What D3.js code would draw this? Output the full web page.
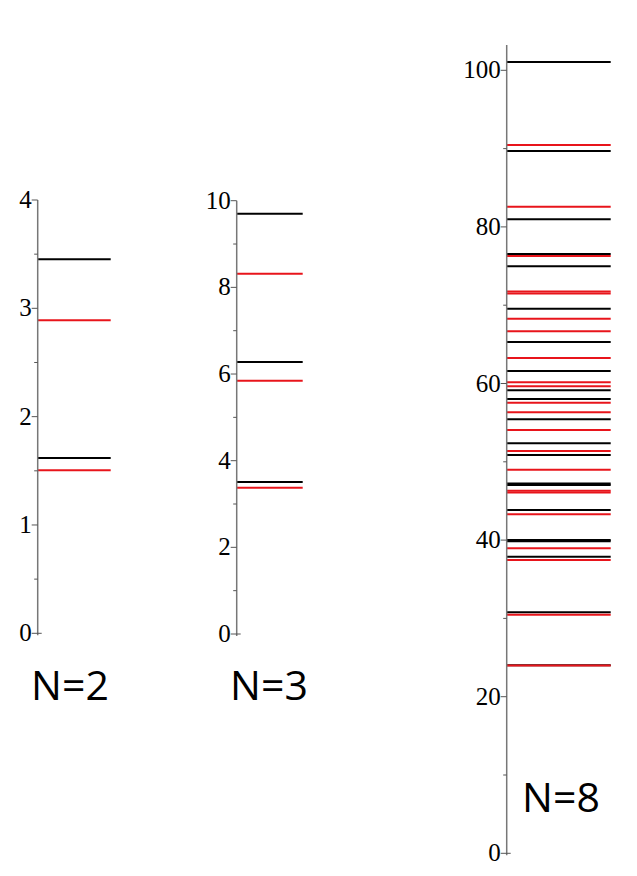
<!DOCTYPE html>
<html>
<head>
<meta charset="utf-8">
<script src="https://cdn.jsdelivr.net/npm/d3@7"></script>
<style>
    html, body { margin: 0; padding: 0; background: #fff; }
    svg { display: block; }
    .tick-label { font-family: "Liberation Serif", "DejaVu Serif", serif; font-size: 25px; fill: #000; }
    .panel-title { font-family: "Open Sans", "Liberation Sans", sans-serif; font-size: 41px; fill: #000; }
</style>
</head>
<body>
<div id="plot"></div>
<script>
// Energy levels
const n2Black = [1.618, 3.452];
const n2Red = [1.505, 2.889];
const n2Ticks = [0, 1, 2, 3, 4];

const n3Black = [3.508, 6.277, 9.70];
const n3Red = [3.377, 5.846, 8.315];
const n3Ticks = [0, 2, 4, 6, 8, 10];

const n8Black = [24.02, 30.78, 37.88, 39.85, 40.02, 43.84, 47.03, 47.23, 50.87, 52.36,
    55.43, 58.02, 59.13, 61.6, 65.3, 69.55, 74.97, 76.54, 80.97, 89.7, 101.06];
const n8Red = [23.97, 30.47, 37.46, 38.95, 43.29, 46.08, 46.3, 48.99, 51.38, 54.06,
    56.32, 57.55, 59.64, 60.15, 63.26, 66.66, 68.28, 71.5, 71.75, 76.28, 82.58, 90.46];
const n8Ticks = [0, 20, 40, 60, 80, 100];

const titles = ["N=2", "N=3", "N=8"];

// Panel layout (pixels)
const panels = [
    { title: titles[0], black: n2Black, red: n2Red, ticks: n2Ticks, minorStep: 0.5,
      x: 37.7, x2: 110.7, y0: 633.3, yTop: 200, max: 4, axisTop: 200, tx: 70, ty: 700 },
    { title: titles[1], black: n3Black, red: n3Red, ticks: n3Ticks, minorStep: 1,
      x: 236.7, x2: 302.7, y0: 634, yTop: 200.7, max: 10, axisTop: 200.7, tx: 269, ty: 700 },
    { title: titles[2], black: n8Black, red: n8Red, ticks: n8Ticks, minorStep: 10,
      x: 506.7, x2: 610.7, y0: 853.3, yTop: 70.3, max: 100, axisTop: 45, tx: 561, ty: 812 }
];

const svg = d3.select('#plot')
    .append('svg')
    .attr('width', 637)
    .attr('height', 876);

panels.forEach(p => {
    const y = d3.scaleLinear().domain([0, p.max]).range([p.y0, p.yTop]);
    const g = svg.append('g');

    // level lines: black first, red on top
    g.selectAll('line.black')
        .data(p.black)
        .join('line')
        .attr('class', 'black')
        .attr('x1', p.x).attr('x2', p.x2)
        .attr('y1', d => y(d)).attr('y2', d => y(d))
        .attr('stroke', '#000')
        .attr('stroke-width', 2);

    g.selectAll('line.red')
        .data(p.red)
        .join('line')
        .attr('class', 'red')
        .attr('x1', p.x).attr('x2', p.x2)
        .attr('y1', d => y(d)).attr('y2', d => y(d))
        .attr('stroke', '#e8141b')
        .attr('stroke-width', 2);

    // axis line
    g.append('line')
        .attr('x1', p.x).attr('x2', p.x)
        .attr('y1', p.y0 + 2).attr('y2', p.axisTop)
        .attr('stroke', '#777')
        .attr('stroke-width', 1.5);

    // minor ticks
    const minor = d3.range(p.minorStep, p.max, p.minorStep * 2);
    g.selectAll('line.minor')
        .data(minor)
        .join('line')
        .attr('class', 'minor')
        .attr('x1', p.x - 3.5).attr('x2', p.x)
        .attr('y1', d => y(d)).attr('y2', d => y(d))
        .attr('stroke', '#555')
        .attr('stroke-width', 1);

    // major ticks
    g.selectAll('line.major')
        .data(p.ticks)
        .join('line')
        .attr('class', 'major')
        .attr('x1', p.x - 6).attr('x2', d => d === 0 ? p.x + 4 : p.x)
        .attr('y1', d => y(d)).attr('y2', d => y(d))
        .attr('stroke', '#555')
        .attr('stroke-width', 1);

    g.selectAll('text.tick-label')
        .data(p.ticks)
        .join('text')
        .attr('class', 'tick-label')
        .attr('x', p.x - 6)
        .attr('y', d => y(d) + 8)
        .attr('text-anchor', 'end')
        .text(d => d);

    svg.append('text')
        .attr('class', 'panel-title')
        .attr('x', p.tx)
        .attr('y', p.ty)
        .attr('text-anchor', 'middle')
        .text(p.title);
});
</script>
</body>
</html>
